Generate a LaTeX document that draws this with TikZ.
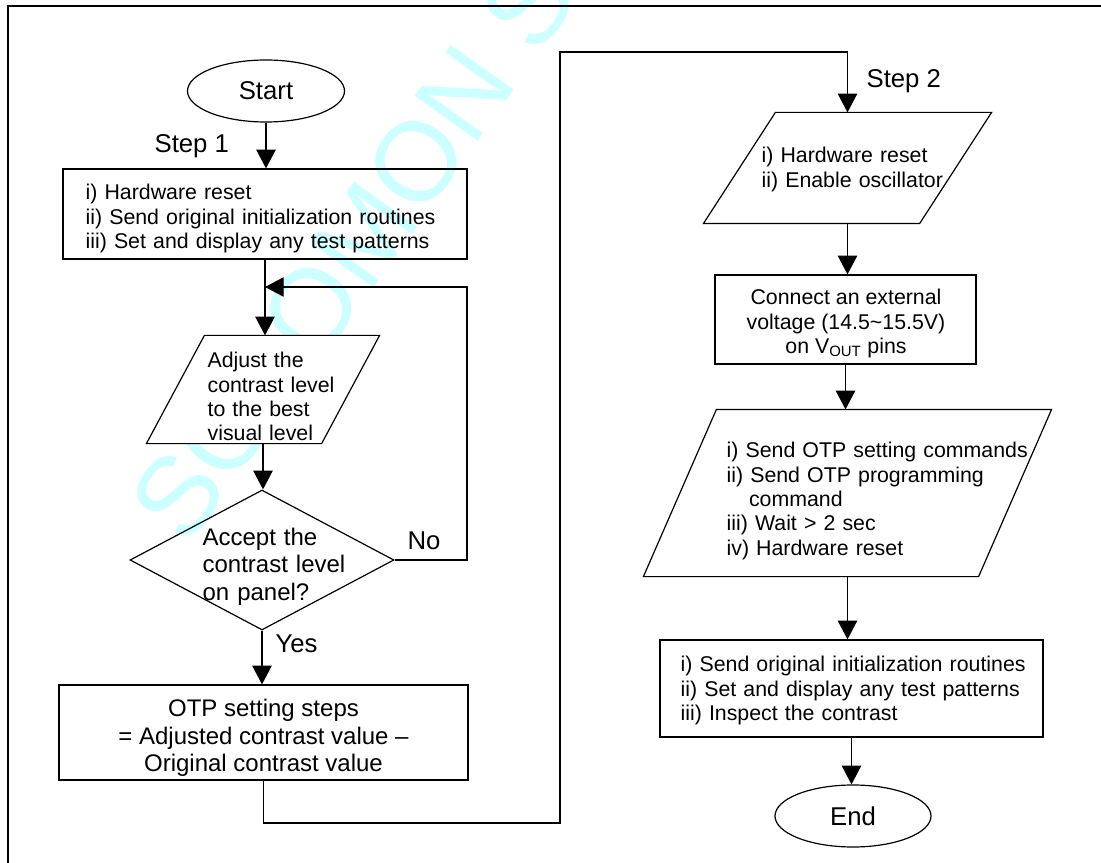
\documentclass[tikz,border=0pt]{standalone}
\usepackage{fontspec}
\setmainfont{Liberation Sans}
\usetikzlibrary{arrows.meta,shapes.geometric}

\begin{document}
\begin{tikzpicture}[x=0.75pt,y=0.75pt,yscale=-1,xscale=1,line width=0.9pt,
	txt/.style={inner sep=0pt,align=left,font=\fontsize{16}{18.2}\selectfont},
	bigtxt/.style={inner sep=0pt,font=\fontsize{18}{20.7}\selectfont},
	lbltxt/.style={inner sep=0pt,font=\fontsize{19.3}{22}\selectfont},
	flowbox/.style={draw,rectangle,inner sep=0pt},
	slantbox/.style={rectangle,inner sep=0pt},
	decbox/.style={draw,diamond,inner sep=0pt},
	termbox/.style={draw,ellipse,inner sep=0pt,font=\fontsize{19.3}{22}\selectfont},
	wm/.style={inner sep=0pt,text={rgb, 255:red, 204; green, 255; blue, 255 },font=\fontsize{84}{90}\selectfont},
	arr/.style={-{Triangle[length=14pt,width=14.5pt]}}]
	\useasboundingbox (0,0) rectangle (1101,863);
	
	%Watermark
	\begin{scope}
	\clip (0,0) rectangle (1101,863);
	\node [wm,anchor=base west,rotate=54.5] (wmark) at (187,549) {SOLOMON SYSTECH};
	\end{scope}
	%Frame
	\draw (8,863) -- (8,6) -- (1101,6) ;
	
	%Shape: Ellipse [start]
	\node [termbox,minimum width=117.75pt,minimum height=46.5pt] (start) at (266,91) {Start};
	%Shape: Rectangle [step 1]
	\node [flowbox,minimum width=303pt,minimum height=67.5pt] (s1box) at (265,214) {};
	%Shape: Parallelogram [adjust]
	\node [slantbox,minimum width=174pt,minimum height=80.25pt] (adjust) at (263,389.5) {};
	\draw [fill=white] ([xshift=43.5pt]adjust.north west) -- (adjust.north east) -- ([xshift=-43.5pt]adjust.south east) -- (adjust.south west) -- cycle ;
	%Shape: Diamond [accept]
	\node [decbox,minimum width=198pt,minimum height=105pt] (accept) at (262,560) {};
	%Shape: Rectangle [otp steps]
	\node [flowbox,minimum width=306.75pt,minimum height=71.25pt] (otp) at (263.5,732.5) {};
	%Shape: Parallelogram [step 2]
	\node [slantbox,minimum width=215.25pt,minimum height=82.5pt] (reset2) at (847.5,168) {};
	\draw [fill=white] ([xshift=54pt]reset2.north west) -- (reset2.north east) -- ([xshift=-54pt]reset2.south east) -- (reset2.south west) -- cycle ;
	%Shape: Rectangle [vout]
	\node [flowbox,minimum width=195.75pt,minimum height=66.75pt] (vout) at (845.5,319.5) {};
	%Shape: Parallelogram [otp commands]
	\node [slantbox,minimum width=305.25pt,minimum height=124.5pt] (otpcmd) at (847.5,493) {};
	\draw [fill=white] ([xshift=54.75pt]otpcmd.north west) -- (otpcmd.north east) -- ([xshift=-54.75pt]otpcmd.south east) -- (otpcmd.south west) -- cycle ;
	%Shape: Rectangle [check]
	\node [flowbox,minimum width=287.25pt,minimum height=72.75pt] (check) at (851.5,688.5) {};
	%Shape: Ellipse [end]
	\node [termbox,minimum width=117pt,minimum height=46.5pt] (finish) at (853,816) {End};
	
	\coordinate (loopturn) at (467,287);
	\coordinate (jumpbot) at (560,823);
	\coordinate (jumptop) at (560,52);
	
	%Straight Lines
	\draw [arr] (start.south) -- (start.south |- s1box.north) ;
	\draw [arr] (s1box.south) -- (s1box.south |- adjust.north) ;
	\draw [arr] (adjust.south) -- (adjust.south |- accept.north) ;
	\draw [arr] (accept.east) -| (loopturn) -- (s1box.south |- loopturn) ;
	\draw [arr] (accept.south) -- (accept.south |- otp.north) ;
	\draw [arr] (otp.south) |- (jumpbot) -- (jumptop) -| (reset2.north) ;
	\draw [arr] (reset2.south) -- (reset2.south |- vout.north) ;
	\draw [arr] (vout.south) -- (vout.south |- otpcmd.north) ;
	\draw [arr] (otpcmd.south) -- (otpcmd.south |- check.north) ;
	\draw [arr] (check.south) -- (check.south |- finish.north) ;
	
	% Text Node
	\node [lbltxt,anchor=base west] (step1) at (154,153) {Step 1};
	% Text Node
	\node [txt,text width=262.5pt,anchor=west] (s1text) at (85,218.5) {i) Hardware reset\\ii) Send original initialization routines\\iii) Set and display any test patterns};
	% Text Node
	\node [txt,text width=97.5pt,anchor=west] (adjtext) at (207,396.6) {Adjust the\\contrast level\\to the best\\visual level};
	% Text Node
	\node [bigtxt,align=left,text width=108.75pt,anchor=west] (acctext) at (202,566.4) {Accept the\\contrast level\\on panel?};
	% Text Node
	\node [lbltxt,anchor=base west] (no) at (407,549) {No};
	% Text Node
	\node [lbltxt,anchor=base west] (yes) at (275,652) {Yes};
	% Text Node
	\node [bigtxt,align=center] (otptext) at (263.5,738) {OTP setting steps\\= Adjusted contrast value \textendash\\Original contrast value};
	% Text Node
	\node [lbltxt,anchor=base west] (step2) at (866,88) {Step 2};
	% Text Node
	\node [txt,text width=138.75pt,anchor=west] (r2text) at (761,169.6) {i) Hardware reset\\ii) Enable oscillator};
	% Text Node
	\node [txt,align=center] (vtext) at (846,323.7) {Connect an external\\voltage (14.5\textasciitilde15.5V)\\on V\textsubscript{OUT} pins};
	% Text Node
	\node [txt,text width=250pt,anchor=west] (cmdtext) at (726,501) {i) Send OTP setting commands\\ii) Send OTP programming\\\hspace*{1.05em}command\\iii) Wait > 2 sec\\iv) Hardware reset};
	% Text Node
	\node [txt,text width=262.5pt,anchor=west] (chktext) at (680,690.7) {i) Send original initialization routines\\ii) Set and display any test patterns\\iii) Inspect the contrast};
	
\end{tikzpicture}
\end{document}
